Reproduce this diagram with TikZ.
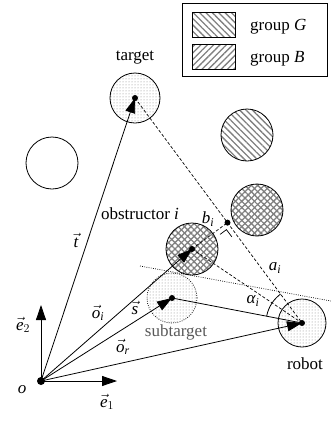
\documentclass[tikz,border=0pt]{standalone}
\usepackage{amsmath}
\usepackage{fontspec}
\setmainfont{Liberation Serif}
\usetikzlibrary{arrows.meta,patterns,patterns.meta,calc}
\tikzset{
  ln/.style={line width=0.8pt},
  vecarrow/.style={line width=0.8pt,-{Triangle[length=15pt,width=10pt]}},
  dsh/.style={line width=0.7pt,dash pattern=on 3pt off 2pt},
  dtt/.style={line width=0.7pt,dash pattern=on 0.8pt off 1.4pt},
  ctr/.style={circle,fill,inner sep=0pt,minimum size=6pt},
  lbl/.style={font=\fontsize{17}{20}\selectfont, inner sep=0pt},
  dotsfill/.style={pattern=dots, pattern color=gray},
  hatchG/.style={pattern={Lines[angle=-45,distance=4.5pt,line width=1.3pt]}, pattern color=gray},
  hatchB/.style={pattern={Lines[angle=45,distance=4.5pt,line width=1.3pt]}, pattern color=gray},
}
\begin{document}
\begin{tikzpicture}[x=1pt,y=-1pt]
\useasboundingbox (0,0) rectangle (331,424);
% centres
\coordinate (o) at (41,381);
\coordinate (tgt) at (135,98);
\coordinate (obs) at (192,249);
\coordinate (sub) at (172,298);
\coordinate (rob) at (302,323);
\coordinate (emp) at (52,163);
\coordinate (hb) at (247,135);
\coordinate (cg) at (257,210);
\coordinate (foot) at ($(tgt)!(obs)!(rob)$);
\coordinate (d1) at (140,266);
\coordinate (d2) at (331,301);
\coordinate (e1) at (117,381);
\coordinate (e2) at (41,305);
% circles
\draw[ln] (emp) circle[radius=26pt];
\path[hatchG] (hb) circle[radius=26pt];
\draw[ln] (hb) circle[radius=26pt];
\foreach \c in {cg,obs}{
  \path[hatchG] (\c) circle[radius=26pt];
  \path[hatchB] (\c) circle[radius=26pt];
  \draw[ln] (\c) circle[radius=26pt];
}
\path[dotsfill] (tgt) circle[radius=25pt];
\draw[ln] (tgt) circle[radius=25pt];
\path[dotsfill] (rob) circle[radius=24pt];
\draw[ln] (rob) circle[radius=24pt];
\path[dotsfill] (sub) circle[radius=25pt];
\draw[dtt] (sub) circle[radius=25pt];
% dashed and dotted lines
\draw[dsh] (tgt) -- (rob);
\draw[dsh] (obs) -- (rob);
\draw[dsh] (obs) -- (foot);
\draw[dtt] (d1) -- (d2);
% right angle mark
\draw[line width=0.7pt]
  ($(foot)!13pt!(obs) + (foot)!5pt!(rob) - (foot)$) --
  ($(foot)!5pt!(obs) + (foot)!5pt!(rob) - (foot)$) --
  ($(foot)!5pt!(obs) + (foot)!14pt!(rob) - (foot)$);
% angle arc
\begin{scope}
  \clip (rob) -- ($(rob)!70pt!(sub)$) -- ($(rob)!70pt!(tgt)$) -- cycle;
  \draw[ln] (rob) circle[radius=36pt];
\end{scope}
% solid lines
\draw[ln] (sub) -- (rob);
\draw[vecarrow] (o) -- (tgt);
\draw[vecarrow] (o) -- (obs);
\draw[vecarrow] (o) -- (sub);
\draw[vecarrow] (o) -- (rob);
\draw[vecarrow] (o) -- (e1);
\draw[vecarrow] (o) -- (e2);
% dots
\node[ctr,minimum size=8pt] (no) at (o) {};
\node[ctr] (ntgt) at (tgt) {};
\node[ctr] (nobs) at (obs) {};
\node[ctr] (nsub) at (sub) {};
\node[ctr] (nrob) at (rob) {};
\node[ctr] (nfoot) at (foot) {};
% labels
\node[lbl] (ltgt) at (135,58) {target};
\node[lbl] (lobs) at (140,214) {obstructor \textit{i}};
\node[lbl,text=black!65] (lsub) at (176,332) {subtarget};
\node[lbl] (lrob) at (305,364) {robot};
\node[lbl] (lo) at (22,390) {\textit{o}};
\node[lbl] (le1) at (107,402) {$\vec{\textit{e}}_1$};
\node[lbl] (le2) at (23,325) {$\vec{\textit{e}}_2$};
\node[lbl] (lt) at (76,240) {$\vec{\textit{t}}$};
\node[lbl] (loi) at (98,313) {$\vec{\textit{o}}_{\textit{i}}$};
\node[lbl] (ls) at (135,308) {$\vec{\textit{s}}$};
\node[lbl] (lor) at (123,347) {$\vec{\textit{o}}_{\textit{r}}$};
\node[lbl] (lb) at (208,219) {$\textit{b}_{\textit{i}}$};
\node[lbl] (lal) at (253,301) {$\textit{α}_{\textit{i}}$};
\node[lbl] (la) at (275,268) {$\textit{a}_{\textit{i}}$};
% legend
\node[draw,line width=0.8pt,minimum width=145pt,minimum height=73pt,inner sep=0pt] (legend) at (254.5,39.5) {};
\node[draw,line width=0.6pt,hatchG,minimum width=43pt,minimum height=25pt,inner sep=0pt] (swG) at (213.5,25) {};
\node[draw,line width=0.6pt,hatchB,minimum width=43pt,minimum height=25pt,inner sep=0pt] (swB) at (213.5,57) {};
\node[lbl,anchor=west] (lG) at (250,27) {group \textit{G}};
\node[lbl,anchor=west] (lB) at (250,59) {group \textit{B}};
\end{tikzpicture}
\end{document}
